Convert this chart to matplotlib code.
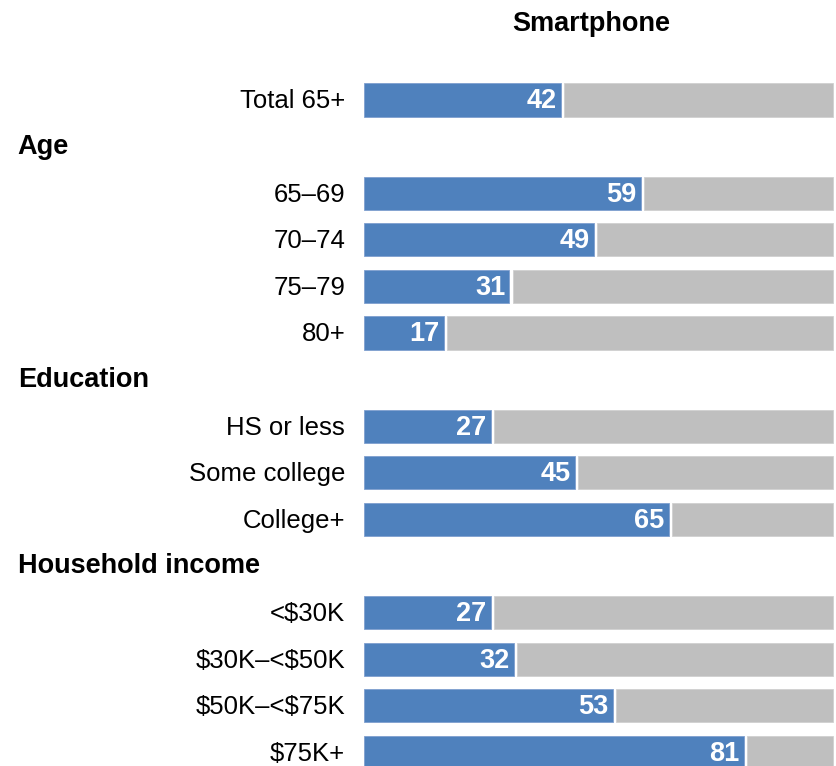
import matplotlib.pyplot as plt
from matplotlib import font_manager

# rows from top to bottom; None marks a section header row
labels = ["Total 65+", "Age", "65–69", "70–74", "75–79", "80+",
          "Education", "HS or less", "Some college", "College+",
          "Household income", "<\\$30K", "\\$30K–<\\$50K", "\\$50K–<\\$75K", "\\$75K+"]
values = [42, None, 59, 49, 31, 17, None, 27, 45, 65, None, 27, 32, 53, 81]

blue = "#4f81bd"
grey = "#bfbfbf"

names = {f.name for f in font_manager.fontManager.ttflist}
fam = ["Liberation Sans Narrow"] if "Liberation Sans Narrow" in names else ["Liberation Sans"]
plt.rcParams["font.family"] = fam + ["DejaVu Sans"]

fig = plt.figure(figsize=(8.37, 7.66), dpi=100)
ax = fig.add_axes([0, 0, 1, 1])
ax.set_xlim(-77.6, 100.85)
ax.set_ylim(14.29, -2.146)
ax.axis("off")

gap = 0.7
for i, (lab, v) in enumerate(zip(labels, values)):
    if v is None:
        ax.text(-73.8, i, lab, ha="left", va="center", fontsize=19.5,
                fontweight="bold", color="black")
        continue
    ax.barh(i, v, left=0, height=0.71, color=blue, edgecolor="#7f9fcf", linewidth=0.6)
    ax.barh(i, 100 - v - gap, left=v + gap, height=0.71, color=grey,
            edgecolor="#d0d0d0", linewidth=0.6)
    ax.text(v - 0.9, i + 0.03, str(v), ha="right", va="center", fontsize=19.5,
            fontweight="bold", color="white")
    ax.text(-4.0, i + 0.03, lab, ha="right", va="center", fontsize=18.5, color="black")

ax.text(48.5, -1.64, "Smartphone", ha="center", va="center", fontsize=19.5,
        fontweight="bold", color="black")

fig.savefig("out.png", dpi=100)
